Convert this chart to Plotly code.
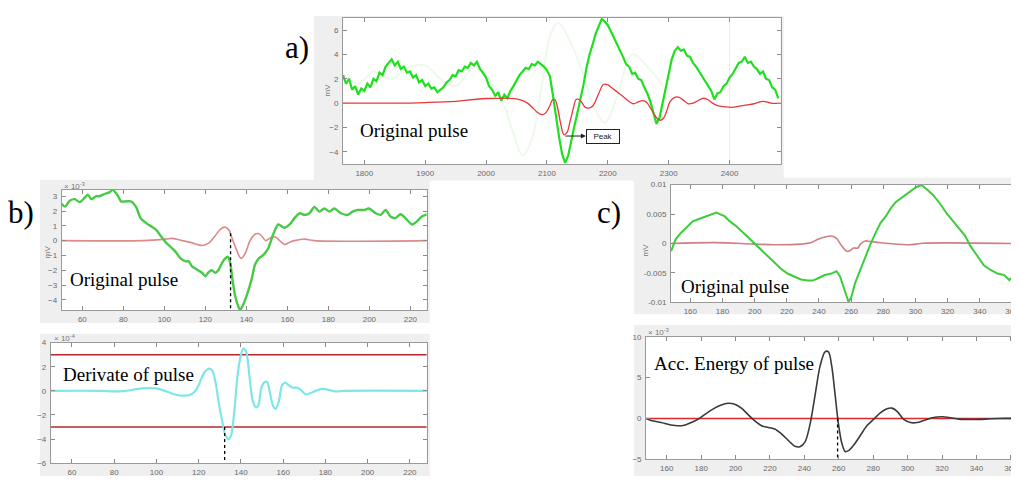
import plotly.graph_objects as go

# page body has an 8px margin: the figure is sized/positioned to compensate
OFF = 8
W, H = 1019 - OFF, 481 - OFF

# ---------------- panel a) data ----------------
a_x = list(range(1765, 2485, 5))
a_green = [2.3, 1.6, 2.0, 1.1, 1.4, 0.7, 1.2, 1.0, 1.6, 1.3,
           2.0, 1.8, 2.5, 2.3, 3.0, 3.3, 3.6, 3.1, 3.4, 2.8,
           3.0, 2.5, 2.6, 2.1, 2.3, 1.7, 1.9, 1.4, 1.6, 1.2,
           1.3, 0.9, 1.1, 1.3, 1.7, 1.9, 2.3, 2.2, 2.7, 2.6,
           3.0, 2.9, 3.3, 3.1, 3.4, 2.8, 2.5, 2.1, 1.4, 1.1,
           0.6, 0.9, 0.2, 0.7, 0.4, 1.0, 1.4, 1.9, 2.3, 2.6,
           2.9, 2.8, 3.2, 3.1, 3.4, 3.2, 3.0, 2.7, 2.2, 0.6,
           -1.2, -2.8, -4.2, -4.9, -4.3, -3.0, -1.9, -0.8, 0.3, 1.5,
           2.9, 4.0, 4.8, 5.7, 6.3, 6.9, 6.7, 6.4, 5.9, 5.4,
           4.9, 4.3, 3.8, 3.2, 3.0, 2.4, 2.5, 2.0, 1.9, 1.3,
           0.8, 0.1, -0.8, -1.7, -1.2, 0.0, 1.2, 2.6, 3.6, 4.3,
           4.6, 4.3, 4.4, 3.9, 3.8, 3.3, 3.0, 2.6, 2.2, 1.9,
           1.4, 1.0, 0.3, 0.8, 0.9, 1.4, 1.6, 2.1, 2.4, 2.9,
           3.3, 3.4, 3.8, 3.3, 3.4, 3.0, 2.8, 2.4, 2.6, 2.0,
           1.9, 1.3, 1.1, 0.4]
a_red_x = [1765, 1850, 1900, 1950, 1980, 2000, 2020, 2040, 2050, 2060,
           2068, 2076, 2084, 2092, 2098, 2104, 2109, 2113, 2118, 2123,
           2128, 2133, 2138, 2143, 2148, 2153, 2158, 2163, 2169, 2175,
           2180, 2186, 2193, 2200, 2208, 2216, 2226, 2236, 2242, 2250,
           2257, 2264, 2270, 2276, 2282, 2287, 2292, 2297, 2302, 2309,
           2316, 2324, 2332, 2340, 2348, 2356, 2364, 2372, 2380, 2392,
           2404, 2416, 2428, 2440, 2455, 2468, 2484]
a_red = [0.0, 0.0, 0.05, 0.15, 0.3, 0.38, 0.4, 0.4, 0.35, 0.2,
         0.0, -0.35, -0.75, -0.95, -0.8, -0.3, 0.25, 0.3, -0.5, -1.8,
         -2.6, -2.4, -1.5, -0.5, 0.3, 0.3, 0.0, -0.35, -0.4, -0.25,
         0.2, 0.9, 1.55, 1.5, 1.2, 0.9, 0.5, 0.1, -0.05, 0.1,
         0.2, 0.05, -0.4, -0.9, -1.3, -1.4, -1.2, -0.6, 0.1, 0.45,
         0.5, 0.25, -0.05, 0.0, 0.2, 0.4, 0.3, 0.0, -0.2, -0.3,
         -0.35, -0.25, -0.15, -0.05, 0.15, 0.0, 0.0]
a_ghost_x = [1765, 1790, 1815, 1845, 1870, 1900, 1925, 1950, 1980, 2005,
             2030, 2045, 2060, 2075, 2090, 2105, 2118, 2135, 2155, 2175,
             2195, 2215, 2240, 2265, 2290]
a_ghost = [2.4, 1.6, 2.6, 2.0, 2.9, 3.1, 2.0, 1.4, 2.9, 2.0,
           -0.3, -2.5, -4.3, -3.0, 1.0, 5.5, 6.6, 5.4, 3.0, 0.0,
           -1.6, 0.5, 4.0, 3.0, 1.5]
a_xticks = [1800, 1900, 2000, 2100, 2200, 2300, 2400]
a_yticks = [-4, -2, 0, 2, 4, 6]
a_peak = (2128, -2.7)       # arrow start
a_peak_box = (2192, -2.7)   # "Peak" label
a_grid_x = 2400

# ---------------- panel b) data (x10^-3 / x10^-4) ----------------
b_green_x = [49.8, 51.5, 53.9, 56.3, 58.7, 61.1, 62.7, 64.4, 66.8, 68.4,
             70.8, 73.2, 74.8, 77.3, 78.9, 81.3, 83.7, 86.1, 88.5, 91.0,
             93.4, 95.8, 98.2, 100.6, 103.1, 105.5, 107.9, 110.3, 111.9, 113.5,
             116.0, 118.4, 120.0, 121.6, 123.2, 124.8, 126.5, 128.1, 129.7, 131.0,
             132.1, 133.2, 134.5, 136.1, 136.9, 138.0, 140.2, 142.6, 144.2, 146.1,
             148.2, 150.6, 153.1, 155.5, 157.1, 158.7, 161.1, 163.5, 166.0, 168.4,
             170.8, 173.2, 175.6, 178.1, 180.5, 182.9, 186.1, 189.4, 191.8, 194.2,
             197.4, 199.8, 203.1, 205.5, 207.9, 210.3, 212.7, 215.2, 217.6, 220.8,
             223.2, 225.6, 228.0]
b_green = [2.5, 2.3, 2.7, 2.8, 2.6, 2.9, 3.1, 2.8, 3.0, 3.0,
           3.15, 3.26, 3.43, 3.04, 2.65, 2.65, 2.65, 2.3, 1.5, 1.2,
           0.98, 0.76, 0.33, -0.1, -0.43, -0.76, -1.2, -1.4, -1.4, -1.74,
           -1.96, -2.17, -2.4, -2.13, -2.0, -2.17, -1.96, -1.52, -1.2, -1.09,
           -1.5, -2.6, -3.7, -4.46, -4.67, -4.46, -3.7, -2.6, -1.63, -1.2,
           -0.98, -0.54, 0.43, 1.09, 0.98, 0.87, 1.09, 1.52, 1.85, 1.74,
           1.85, 2.28, 1.96, 2.17, 1.96, 2.17, 1.85, 1.74, 1.96, 2.07,
           2.07, 2.17, 1.85, 1.74, 2.07, 1.63, 1.52, 1.78, 1.52, 1.09,
           1.3, 1.63, 1.78]
b_red_x = [50, 90, 95.8, 100.6, 104.0, 108.7, 113.5, 118.4, 121.6, 124.8,
           127.3, 129.4, 131.3, 133.2, 135.3, 137.4, 139.4, 141.8, 144.2, 145.8,
           147.4, 149.4, 151.5, 153.9, 156.3, 158.7, 161.1, 163.5, 168.4, 173.2,
           228]
b_red = [0, 0, 0.05, 0.1, 0.15, 0, -0.15, -0.33, -0.17, 0.33,
         0.76, 0.91, 0.76, 0.1, -0.65, -1.2, -0.87, 0, 0.43, 0.48,
         0.33, 0, 0.17, 0.26, 0, -0.26, -0.11, 0, 0.1, 0,
         0]
b_cyan_x = [50, 73, 80, 85.4, 93.2, 99.4, 104.0, 108.7, 113.3, 116.4,
            118.8, 120.3, 122.6, 125.0, 126.5, 128.1, 129.6, 131.2, 132.7, 134.3,
            135.5, 136.9, 138.4, 140.0, 141.2, 142.5, 144.0, 145.6, 147.1, 148.2,
            149.8, 151.3, 152.4, 153.6, 155.2, 156.4, 158.0, 159.5, 161.1, 162.6,
            164.5, 166.8, 168.4, 170.7, 173.0, 175.3, 178.4, 181.6, 184.7, 189.3,
            228]
b_cyan = [0, 0, -0.05, 0, 0.2, 0.2, 0, -0.3, -0.4, -0.3,
          0.08, 0.6, 1.5, 1.84, 1.66, 0.6, -1.1, -2.55, -3.7, -4.0,
          -3.6, -1.63, 1.26, 2.97, 3.5, 3.24, 1.26, -0.84, -1.37, -1.24,
          0.34, 0.74, 0.74, -0.05, -1.24, -1.5, -0.84, 0.47, 0.68, 0.47,
          0.26, 0.26, 0.08, -0.3, -0.18, 0, 0.16, 0.08, -0.05, 0,
          0]
b_threshold = 3.0
b_peak_x = 132.3
b_peak_top = 0.5
b_xticks = [60, 80, 100, 120, 140, 160, 180, 200, 220]
b1_yticks = [-4, -3, -2, -1, 0, 1, 2, 3]
b2_yticks = [-6, -4, -2, 0, 2, 4]

# ---------------- panel c) data (x10^-3) ----------------
c_green_x = [148, 150.9, 154.1, 157.3, 161.5, 165.7, 169.9, 173.1, 176.2, 178.3,
             181.5, 184.6, 188.8, 193.1, 197.3, 200.4, 203.6, 207.8, 212.0, 216.2,
             220.4, 224.6, 228.8, 233.1, 236.2, 239.4, 243.6, 247.8, 250.9, 253.1,
             255.8, 258.3, 260.0, 262.5, 265.7, 268.8, 272.0, 275.2, 278.3, 281.5,
             284.6, 287.8, 292.0, 296.2, 300.4, 303.6, 306.7, 311.0, 315.2, 319.4,
             323.6, 327.8, 331.0, 334.1, 338.3, 342.5, 346.7, 351.0, 355.2, 358.3,
             361.5, 363.0]
c_green = [-1.3, 0.72, 1.8, 2.65, 3.76, 4.2, 4.6, 4.86, 5.25, 5.0,
           4.6, 3.76, 2.9, 1.8, 0.72, -0.1, -0.94, -2.0, -3.15, -4.25,
           -5.1, -5.6, -6.1, -6.3, -6.3, -5.9, -5.36, -5.1, -4.7, -5.6,
           -7.85, -9.9, -9.2, -6.7, -4.5, -2.3, -0.1, 1.8, 3.5, 4.6,
           5.97, 7.07, 7.9, 8.73, 9.56, 9.94, 9.3, 8.2, 6.8, 5.1,
           3.76, 2.4, 1.27, -0.4, -2.0, -3.7, -4.5, -5.1, -5.36, -6.2,
           -5.36, -5.1]
c_red_x = [148, 175, 199.4, 212, 228.8, 235.2, 239.4, 243.6, 247.8, 250.9,
           254.1, 257.3, 259.4, 261.5, 264.2, 265.7, 268.8, 272.0, 277.3, 283.6,
           296.2, 300.4, 304.6, 363]
c_red = [0, 0.15, -0.1, -0.2, -0.1, 0.17, 0.72, 1.1, 1.27, 0.88,
         -0.4, -1.33, -1.2, -0.77, -0.77, -0.1, 0.44, 0.33, 0.17, 0,
         -0.22, -0.1, 0.05, 0]
c_energy_x = [148, 150.9, 156.7, 162.5, 166.4, 170.3, 174.2, 178.1, 182.0, 187.8,
              191.7, 195.6, 199.5, 203.4, 207.3, 211.2, 215.1, 219.0, 222.8, 226.7,
              230.6, 234.5, 237.4, 240.4, 243.3, 246.2, 249.1, 252.0, 254.0, 255.9,
              257.9, 259.8, 261.8, 263.7, 265.6, 268.6, 272.5, 276.3, 280.2, 284.1,
              288.0, 290.9, 293.9, 297.7, 301.6, 305.5, 309.4, 314.3, 320.1, 325.0,
              329.8, 337.6, 345.4, 353.2, 363.0]
c_energy = [0, -0.24, -0.5, -0.8, -0.9, -0.83, -0.5, -0.12, 0.47, 1.26,
            1.65, 1.85, 1.73, 1.26, 0.47, -0.31, -0.9, -1.1, -1.3, -1.9,
            -2.68, -3.4, -3.46, -2.87, -0.7, 2.83, 6.4, 8.15, 8.15, 6.4,
            2.83, -0.7, -3.07, -4.05, -3.94, -3.27, -2.09, -0.9, -0.12, 0.67,
            1.18, 1.26, 0.87, -0.12, -0.5, -0.5, -0.24, 0.08, 0.2, 0.08,
            -0.08, -0.12, -0.08, 0, 0]
c_peak_x = 259.3
c_level = 0.0
c_xticks = [160, 180, 200, 220, 240, 260, 280, 300, 320, 340, 360]
c1_yticks = [-10, -5, 0, 5, 10]
c1_yticktext = ["-0.01", "-0.005", "0", "0.005", "0.01"]
c2_yticks = [-5, 0, 5, 10]


# ---------------- layout helpers (page pixel -> paper) ----------------
def px(x):
    return (x - OFF) / W


def py(y):
    return 1 - (y - OFF) / H


TICKFONT = dict(family="Liberation Sans, Arial", size=8, color="#6a6a6a")
SERIF = "Liberation Serif, Times New Roman, serif"


def xaxis(x0, x1, rng, ticks, anchor):
    return dict(domain=[max(px(x0), 0), min(px(x1), 1)], range=rng, tickvals=ticks,
                anchor=anchor, ticks="inside", ticklen=4, tickcolor="#8a8a8a",
                showline=True, linecolor="#9a9a9a", linewidth=1, mirror="ticks",
                showgrid=False, zeroline=False, tickfont=TICKFONT, ticklabelstandoff=1,
                ticklabeloverflow="allow")


def yaxis(y0, y1, rng, ticks, anchor, text=None):
    d = dict(domain=[py(y1), py(y0)], range=rng, tickvals=ticks, anchor=anchor,
             ticks="inside", ticklen=4, tickcolor="#8a8a8a", showline=True,
             linecolor="#9a9a9a", linewidth=1, mirror="ticks", showgrid=False,
             zeroline=False, tickfont=TICKFONT, ticklabelstandoff=2)
    if text is not None:
        d["ticktext"] = text
    return d


fig = go.Figure()

# panel a
fig.add_trace(go.Scatter(x=a_ghost_x, y=a_ghost, mode="lines", xaxis="x", yaxis="y",
                         line=dict(color="rgba(140,225,130,0.16)", width=2, shape="spline")))
fig.add_trace(go.Scatter(x=a_x, y=a_green, mode="lines", xaxis="x", yaxis="y",
                         line=dict(color="#1ee01e", width=2.2)))
fig.add_trace(go.Scatter(x=a_red_x, y=a_red, mode="lines", xaxis="x", yaxis="y",
                         line=dict(color="#e8383a", width=1.3, shape="spline")))

# panel b top
fig.add_trace(go.Scatter(x=b_red_x, y=b_red, mode="lines", xaxis="x2", yaxis="y2",
                         line=dict(color="#dc8a8a", width=1.6, shape="spline")))
fig.add_trace(go.Scatter(x=b_green_x, y=b_green, mode="lines", xaxis="x2", yaxis="y2",
                         line=dict(color="#48c948", width=2.4, shape="spline", smoothing=0.7)))
fig.add_trace(go.Scatter(x=[b_peak_x, b_peak_x], y=[b_peak_top, -4.7], mode="lines",
                         xaxis="x2", yaxis="y2", line=dict(color="black", width=1.3, dash="dot")))

# panel b bottom
fig.add_trace(go.Scatter(x=[50, 228], y=[b_threshold, b_threshold], mode="lines",
                         xaxis="x3", yaxis="y3", line=dict(color="#b8242a", width=1.5)))
fig.add_trace(go.Scatter(x=[50, 228], y=[-b_threshold, -b_threshold], mode="lines",
                         xaxis="x3", yaxis="y3", line=dict(color="#b8242a", width=1.5)))
fig.add_trace(go.Scatter(x=b_cyan_x, y=b_cyan, mode="lines", xaxis="x3", yaxis="y3",
                         line=dict(color="#7ee6e6", width=2.2, shape="spline", smoothing=0.8)))
fig.add_trace(go.Scatter(x=[b_peak_x, b_peak_x], y=[-b_threshold, -6], mode="lines",
                         xaxis="x3", yaxis="y3", line=dict(color="black", width=1.3, dash="dot")))

# panel c top
fig.add_trace(go.Scatter(x=c_red_x, y=c_red, mode="lines", xaxis="x4", yaxis="y4",
                         line=dict(color="#d07f84", width=1.6, shape="spline")))
fig.add_trace(go.Scatter(x=c_green_x, y=c_green, mode="lines", xaxis="x4", yaxis="y4",
                         line=dict(color="#3ccc3c", width=2)))

# panel c bottom
fig.add_trace(go.Scatter(x=[148, 363], y=[c_level, c_level], mode="lines", xaxis="x5", yaxis="y5",
                         line=dict(color="#e0282c", width=1.5)))
fig.add_trace(go.Scatter(x=c_energy_x, y=c_energy, mode="lines", xaxis="x5", yaxis="y5",
                         line=dict(color="#3a3a3a", width=1.6, shape="spline", smoothing=0.8)))
fig.add_trace(go.Scatter(x=[c_peak_x, c_peak_x], y=[c_level, -5], mode="lines",
                         xaxis="x5", yaxis="y5", line=dict(color="black", width=1.3, dash="dot")))

BG = "#efefef"
shapes = []
for (x0, y0, x1, y1) in [(315, 12, 786, 180), (40, 179, 431, 325), (40, 336, 431, 481),
                         (636, 177, 1019, 316), (636, 327, 1019, 481)]:
    shapes.append(dict(type="rect", xref="paper", yref="paper", x0=px(x0), x1=px(x1),
                       y0=py(y1), y1=py(y0), fillcolor=BG, line=dict(width=0), layer="below"))
for i in ["", "2", "3", "4", "5"]:
    shapes.append(dict(type="rect", xref="x%s domain" % i, yref="y%s domain" % i,
                       x0=0, x1=1, y0=0, y1=1, fillcolor="white", line=dict(width=0),
                       layer="below"))
shapes.append(dict(type="line", xref="x", yref="y domain", x0=a_grid_x, x1=a_grid_x,
                   y0=0, y1=1, line=dict(color="#ebebeb", width=1), layer="below"))

annotations = []


def label(text, x, y, size, xanchor="left", family=SERIF, color="black", angle=0):
    annotations.append(dict(text=text, x=px(x), y=py(y), xref="paper", yref="paper",
                            xanchor=xanchor, yanchor="middle", showarrow=False,
                            textangle=angle, font=dict(family=family, size=size, color=color)))


label("a)", 298, 44, 31, xanchor="center")
label("b)", 21, 212, 31, xanchor="center")
label("c)", 611, 212, 31, xanchor="center")
label("Original pulse", 359, 129, 19)
label("Original pulse", 68, 281, 19)
label("Derivate of pulse", 61, 378, 19)
label("Original pulse", 681, 288, 19)
label("Acc. Energy of pulse", 654, 366, 19)
label("mV", 328, 88, 8, xanchor="center", family="Liberation Sans", color="#777", angle=-90)
label("mV", 47, 252, 8, xanchor="center", family="Liberation Sans", color="#777", angle=-90)
label("mV", 647, 251, 8, xanchor="center", family="Liberation Sans", color="#777", angle=-90)
label("\u00d7 10<sup>-3</sup>", 62, 185, 8, family="Liberation Sans", color="#777")
label("\u00d7 10<sup>-4</sup>", 52, 340, 8, family="Liberation Sans", color="#777")
label("\u00d7 10<sup>-3</sup>", 648, 334, 8, family="Liberation Sans", color="#777")

# Peak callout in panel a
annotations.append(dict(text="Peak", x=a_peak_box[0], y=a_peak_box[1], xref="x", yref="y",
                        showarrow=False, bordercolor="#222", borderwidth=1, bgcolor="white",
                        borderpad=2, width=28,
                        font=dict(family="Liberation Sans", size=8, color="#222")))
annotations.append(dict(text="", x=2164, y=a_peak[1], ax=a_peak[0], ay=a_peak[1],
                        xref="x", yref="y", axref="x", ayref="y", showarrow=True,
                        arrowhead=2, arrowsize=1, arrowwidth=1, arrowcolor="#222"))

fig.update_layout(
    width=W, height=H, margin=dict(l=0, r=0, t=0, b=0),
    paper_bgcolor="white", plot_bgcolor="white", showlegend=False,
    xaxis=xaxis(344, 783, [1765, 2484], a_xticks, "y"),
    yaxis=yaxis(14, 163, [-5, 7], a_yticks, "x"),
    xaxis2=xaxis(62, 428, [50, 228], b_xticks, "y2"),
    yaxis2=yaxis(189, 312, [-4.7, 3.45], b1_yticks, "x2"),
    xaxis3=xaxis(51, 428, [50, 228], b_xticks, "y3"),
    yaxis3=yaxis(345, 468, [-6, 4], b2_yticks, "x3"),
    xaxis4=xaxis(673, 1019, [148, 362.5], c_xticks, "y4"),
    yaxis4=yaxis(184, 304, [-10, 10], c1_yticks, "x4", c1_yticktext),
    xaxis5=xaxis(648, 1019, [148, 363], c_xticks, "y5"),
    yaxis5=yaxis(339, 464, [-5, 10], c2_yticks, "x5"),
    shapes=shapes, annotations=annotations,
)

fig.write_html("out.html")
